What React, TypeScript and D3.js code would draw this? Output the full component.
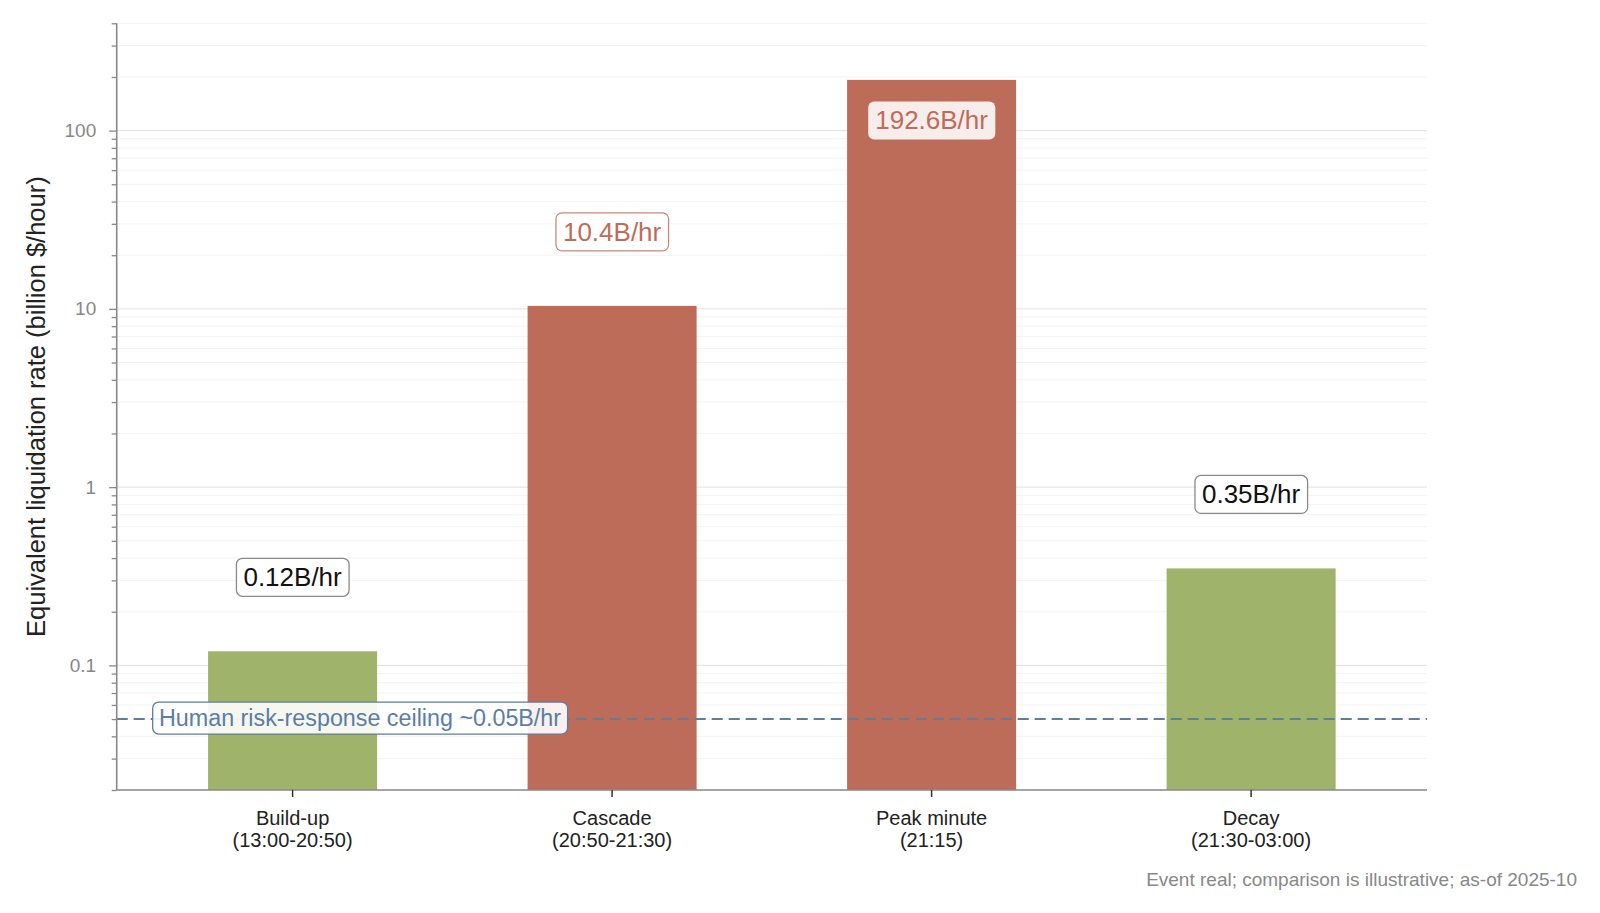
import React, { useEffect, useRef } from 'react';
import * as d3 from 'd3';

const phases = ['Build-up', 'Cascade', 'Peak minute', 'Decay'];
const windows = ['(13:00-20:50)', '(20:50-21:30)', '(21:15)', '(21:30-03:00)'];
const rates = [0.12, 10.4, 192.6, 0.35];
const rateLabels = ['0.12B/hr', '10.4B/hr', '192.6B/hr', '0.35B/hr'];
const isSpike = [false, true, true, false];
const majorTicks = [0.1, 1, 10, 100];
const humanCeiling = 0.05;

const RED = '#be6c5a';
const GREEN = '#9fb36a';
const BLUE = '#5b7ea3';
const FONT = '"Liberation Sans", Arial, Helvetica, sans-serif';

const App: React.FC = () => {
  const svgRef = useRef<SVGSVGElement | null>(null);

  useEffect(() => {
    if (!svgRef.current) return;
    const W = 1600;
    const H = 913;
    const margin = { top: 23.3, right: 173, bottom: 123, left: 116.7 };
    const width = W - margin.left - margin.right;
    const height = H - margin.top - margin.bottom;

    const root = d3.select(svgRef.current);
    root.selectAll('*').remove();
    root.attr('width', W).attr('height', H).style('font-family', FONT).style('display', 'block');

    const svg = root.append('g').attr('transform', `translate(${margin.left},${margin.top})`);

    const x = d3.scaleBand().domain(phases).range([0, width]).paddingInner(0.471).paddingOuter(0.286);
    const y = d3.scaleLog().domain([0.02, 400]).range([height, 0]);

    // Grid: minor then major
    const minor: number[] = [];
    [0.01, 0.1, 1, 10, 100].forEach(dec => {
      for (let k = 2; k <= 9; k++) {
        const v = dec * k;
        if (v >= 0.02 && v <= 400) minor.push(v);
      }
    });
    svg.append('g').selectAll('line').data(minor).enter().append('line')
      .attr('x1', 0).attr('x2', width)
      .attr('y1', d => y(d)).attr('y2', d => y(d))
      .attr('stroke', '#f3f3f3').attr('stroke-width', 1);
    svg.append('g').selectAll('line').data(majorTicks).enter().append('line')
      .attr('x1', 0).attr('x2', width)
      .attr('y1', d => y(d)).attr('y2', d => y(d))
      .attr('stroke', '#e6e6e6').attr('stroke-width', 1.3);

    // Bars
    svg.selectAll('.bar').data(phases).enter().append('rect')
      .attr('class', 'bar')
      .attr('x', d => x(d)!)
      .attr('width', x.bandwidth())
      .attr('y', (_, i) => y(rates[i]))
      .attr('height', (_, i) => height - y(rates[i]))
      .attr('fill', (_, i) => (isSpike[i] ? RED : GREEN));

    // Human ceiling line
    svg.append('line')
      .attr('x1', 0).attr('x2', width)
      .attr('y1', y(humanCeiling)).attr('y2', y(humanCeiling))
      .attr('stroke', BLUE).attr('stroke-width', 2)
      .attr('stroke-dasharray', '11,6');

    // Axes
    const yAxis = svg.append('g')
      .call(d3.axisLeft(y).tickValues(minor).tickFormat(() => '').tickSize(5));
    yAxis.select('.domain').remove();
    yAxis.selectAll('line').attr('stroke', '#888').attr('stroke-width', 1.3);

    const yMajor = svg.append('g')
      .call(d3.axisLeft(y).tickValues(majorTicks).tickFormat(d => String(d)).tickSize(7.5).tickPadding(13));
    yMajor.select('.domain').attr('stroke', '#888').attr('stroke-width', 1.6)
      .attr('d', `M0,0V${height}`);
    yMajor.selectAll('line').attr('stroke', '#888').attr('stroke-width', 1.3);
    yMajor.selectAll('text').attr('fill', '#888').style('font-size', '19px').style('font-family', FONT);

    const xAxis = svg.append('g').attr('transform', `translate(0,${height})`)
      .call(d3.axisBottom(x).tickSize(7).tickFormat(() => ''));
    xAxis.select('.domain').attr('stroke', '#888').attr('stroke-width', 1.6).attr('d', `M0,0H${width}`);
    xAxis.selectAll('line').attr('stroke', '#333').attr('stroke-width', 1.5);

    phases.forEach((p, i) => {
      const cx = x(p)! + x.bandwidth() / 2;
      const t = svg.append('text').attr('x', cx).attr('y', height + 35)
        .attr('text-anchor', 'middle').attr('fill', '#222').style('font-size', '20px');
      t.append('tspan').attr('x', cx).text(p);
      t.append('tspan').attr('x', cx).attr('dy', 22.5).text(windows[i]);
    });

    // Boxed label helper
    const boxLabel = (cx: number, cy: number, text: string, opts: {
      color: string; border: string; fill: string; fillOpacity: number; size: number;
      anchor?: string; padX?: number; padY?: number;
    }) => {
      const g = svg.append('g');
      const rect = g.append('rect');
      const t = g.append('text').attr('x', cx).attr('y', cy)
        .attr('text-anchor', opts.anchor ?? 'middle')
        .attr('dominant-baseline', 'central')
        .attr('fill', opts.color).style('font-size', `${opts.size}px`).text(text);
      const bb = (t.node() as SVGTextElement).getBBox();
      const px = opts.padX ?? 7;
      const py = opts.padY ?? 4;
      rect.attr('x', bb.x - px).attr('y', bb.y - py)
        .attr('width', bb.width + px * 2).attr('height', bb.height + py * 2)
        .attr('rx', 6).attr('fill', opts.fill).attr('fill-opacity', opts.fillOpacity)
        .attr('stroke', opts.border).attr('stroke-width', 1.3);
    };

    phases.forEach((p, i) => {
      const cx = x(p)! + x.bandwidth() / 2;
      const top = y(rates[i]);
      if (i === 2) {
        boxLabel(cx, top + 40.6, rateLabels[i], { color: RED, border: 'none', fill: '#ffffff', fillOpacity: 0.88, size: 26 });
      } else if (isSpike[i]) {
        boxLabel(cx, top - 74, rateLabels[i], { color: RED, border: '#cc8878', fill: '#ffffff', fillOpacity: 1, size: 26 });
      } else {
        boxLabel(cx, top - 74, rateLabels[i], { color: '#111', border: '#8a8a8a', fill: '#ffffff', fillOpacity: 1, size: 26 });
      }
    });

    boxLabel(159 - margin.left, y(humanCeiling) - 1, 'Human risk-response ceiling ~0.05B/hr', {
      color: BLUE, border: BLUE, fill: '#ffffff', fillOpacity: 0.9, size: 23.3, anchor: 'start', padX: 6.3, padY: 3,
    });

    // Y-axis title
    root.append('text')
      .attr('transform', `translate(45,${margin.top + height / 2}) rotate(-90)`)
      .attr('text-anchor', 'middle').attr('fill', '#222').style('font-size', '25.5px')
      .text('Equivalent liquidation rate (billion $/hour)');

    // Footnote
    root.append('text').attr('x', 1577).attr('y', 886).attr('text-anchor', 'end')
      .attr('fill', '#888').style('font-size', '19px')
      .text('Event real; comparison is illustrative; as-of 2025-10');
  }, []);

  return (
    <div style={{ width: 1600, height: 913, margin: -8 }}>
      <svg ref={svgRef} />
    </div>
  );
};

export default App;
